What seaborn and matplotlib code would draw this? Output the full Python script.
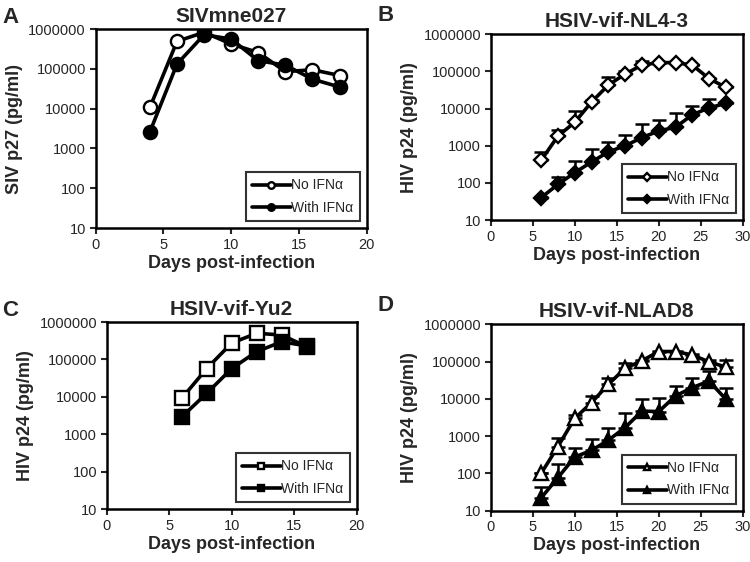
import matplotlib
matplotlib.use('Agg')
import matplotlib.pyplot as plt
import seaborn as sns
import numpy as np
import pandas as pd

sns.set_style("ticks")
plt.rcParams['font.family'] = ['Liberation Sans', 'DejaVu Sans']

# ---- data ----
# A: SIVmne027
days_a = [4, 6, 8, 10, 12, 14, 16, 18]
a_no = [10700, 490000, 830000, 420000, 257000, 85000, 95000, 68000]
a_with = [2600, 132000, 720000, 560000, 160000, 124000, 55000, 35000]

# B: HSIV-vif-NL4-3
days_b = [6, 8, 10, 12, 14, 16, 18, 20, 22, 24, 26, 28]
b_no = [405, 1820, 4270, 15000, 43000, 85000, 148000, 173000, 173000, 148000, 64000, 37000]
b_no_top = [690, 2650, 8700, 17000, 69000, 105000, 190000, 175000, 175000, 150000, 65000, 38000]
b_with = [40, 91, 188, 365, 680, 1000, 1650, 2500, 3150, 6800, 10500, 13800]
b_with_top = [41, 147, 400, 800, 1230, 1900, 3850, 4900, 7400, 11700, 18600, 14000]

# C: HSIV-vif-Yu2
days_c = [6, 8, 10, 12, 14, 16]
c_no = [9100, 57000, 275000, 500000, 450000, 219000]
c_with = [2900, 12400, 57000, 162000, 296000, 230000]

# D: HSIV-vif-NLAD8
days_d = [6, 8, 10, 12, 14, 16, 18, 20, 22, 24, 26, 28]
d_no = [100, 525, 3000, 7900, 24500, 66000, 105000, 186000, 186000, 150000, 98000, 71000]
d_no_top = [105, 870, 3800, 12000, 37000, 94000, 110000, 190000, 190000, 155000, 112000, 107000]
d_with = [22, 77, 275, 415, 775, 1700, 4700, 4550, 12000, 20000, 30000, 9700]
d_with_top = [43, 175, 490, 840, 1700, 4100, 10000, 10300, 22000, 36000, 56000, 20000]

labels = ["No IFN\u03b1", "With IFN\u03b1"]

fig = plt.figure(figsize=(7.5, 5.62), dpi=100)
panels = [
    dict(rect=[0.1276, 0.5943, 0.3613, 0.354], letter="A", title="SIVmne027",
         ylabel="SIV p27 (pg/ml)", marker="o", ms=9.5, days=days_a,
         no=a_no, with_=a_with, no_top=None, with_top=None, xmax=20),
    dict(rect=[0.6543, 0.6085, 0.336, 0.3305], letter="B", title="HSIV-vif-NL4-3",
         ylabel="HIV p24 (pg/ml)", marker="D", ms=7.5, days=days_b,
         no=b_no, with_=b_with, no_top=b_no_top, with_top=b_with_top, xmax=30),
    dict(rect=[0.1423, 0.0943, 0.3333, 0.3327], letter="C", title="HSIV-vif-Yu2",
         ylabel="HIV p24 (pg/ml)", marker="s", ms=9.5, days=days_c,
         no=c_no, with_=c_with, no_top=None, with_top=None, xmax=20),
    dict(rect=[0.6543, 0.0913, 0.336, 0.3317], letter="D", title="HSIV-vif-NLAD8",
         ylabel="HIV p24 (pg/ml)", marker="^", ms=10, days=days_d,
         no=d_no, with_=d_with, no_top=d_no_top, with_top=d_with_top, xmax=30),
]

for p in panels:
    ax = fig.add_axes(p["rect"])
    df = pd.DataFrame({"day": p["days"] * 2,
                       "val": p["no"] + p["with_"],
                       "grp": [labels[0]] * len(p["days"]) + [labels[1]] * len(p["days"])})

    # upper-only error bars, drawn under the markers
    for vals, tops in [(p["no"], p["no_top"]), (p["with_"], p["with_top"])]:
        if tops is not None:
            up = np.array(tops) - np.array(vals)
            ax.errorbar(p["days"], vals, yerr=[np.zeros(len(vals)), up], fmt='none',
                        ecolor='black', elinewidth=1.8, capsize=5, capthick=1.8, zorder=1)

    for grp, face in [(labels[0], 'white'), (labels[1], 'black')]:
        sub = df[df["grp"] == grp]
        sns.lineplot(data=sub, x="day", y="val", ax=ax, color='black', linewidth=2.6,
                     marker=p["marker"], markersize=p["ms"], markerfacecolor=face,
                     markeredgecolor='black', markeredgewidth=1.7, label=grp, zorder=3)

    ax.set_yscale('log')
    ax.set_ylim(10, 1000000)
    ax.set_xlim(0, p["xmax"])
    ax.set_yticks([10, 100, 1000, 10000, 100000, 1000000])
    ax.set_yticklabels(["10", "100", "1000", "10000", "100000", "1000000"])
    ax.yaxis.set_minor_locator(matplotlib.ticker.NullLocator())
    ax.set_xticks(np.arange(0, p["xmax"] + 1, 5))
    ax.tick_params(axis='both', direction='out', length=4, width=1.5, labelsize=10.5, pad=3)
    for s in ax.spines.values():
        s.set_linewidth(1.8)
        s.set_color('black')
    ax.set_xlabel("Days post-infection", fontsize=13, fontweight='bold', labelpad=2)
    ax.set_ylabel(p["ylabel"], fontsize=13, fontweight='bold', labelpad=4)
    ax.set_title(p["title"], fontsize=15, fontweight='bold', pad=5)
    leg = ax.legend(loc='lower right', fontsize=10, frameon=True, fancybox=False,
                    edgecolor='black', handlelength=2.8, borderaxespad=0.5,
                    handletextpad=0.05, markerscale=0.5, borderpad=0.45, labelspacing=0.6)
    leg.get_frame().set_linewidth(1.5)

    # panel letter
    x0 = p["rect"][0]
    fig.text(0.003 if x0 < 0.5 else 0.503,
             p["rect"][1] + p["rect"][3] + 0.002 + (0.012 if p["letter"] in "BD" else 0.0),
             p["letter"], fontsize=16, fontweight='bold', va='bottom', ha='left')

fig.savefig("out.png", dpi=100)
